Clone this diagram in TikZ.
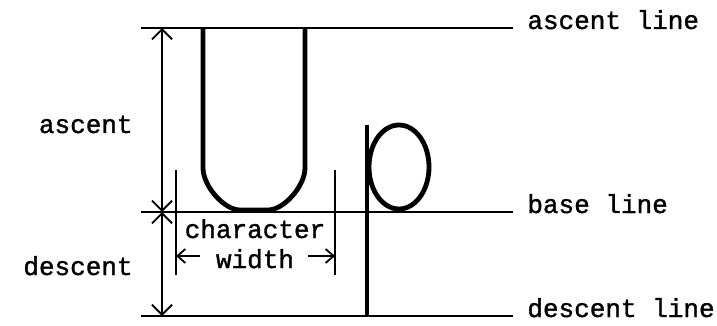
\documentclass[tikz,border=0pt]{standalone}
\usepackage{fontspec}
\newfontfamily\monofont[FakeBold=1.3]{Liberation Mono}
\usetikzlibrary{arrows.meta,positioning}
\tikzset{
  guide/.style={
    line width=1.2pt
  },
  glyph/.style={
    line width=2.4pt,
    line join=round
  },
  dim/.style={
    line width=0.9pt,
    {Straight Barb[length=5pt,width=10pt]}-{Straight Barb[length=5pt,width=10pt]}
  },
  wdim/.style={
    line width=0.9pt,
    -{Straight Barb[length=4pt,width=7pt]}
  },
  tick/.style={
    line width=0.9pt
  },
  lbl/.style={
    font=\monofont\fontsize{13}{15}\selectfont,
    inner sep=0pt
  },
}

\begin{document}
\begin{tikzpicture}[x=0.5pt,y=-0.5pt]
  \useasboundingbox (0,0) rectangle (717,326);
  % the three lines and their names
  \foreach \y/\nm/\txt in {28/asc/ascent line,212/base/base line,316/desc/descent line}{
    \coordinate (\nm-l) at (141,\y);
    \coordinate (\nm-r) at (513,\y);
    \draw[guide] (\nm-l) -- (\nm-r);
    \node[lbl,anchor=base west] (\nm-t) at (527,\y+1) {\txt};
  }
  % ascent and descent
  \coordinate (dimTop) at (162,28);
  \coordinate (dimMid) at (162,212);
  \coordinate (dimBot) at (162,316);
  \draw[dim] (dimMid) -- (dimTop);
  \draw[dim] (dimMid) -- (dimBot);
  \node[lbl,anchor=base east] (ascent) at (133,133) {ascent};
  \node[lbl,anchor=base east] (descent) at (133,275) {descent};
  % character width
  \coordinate (cwA) at (176,170);
  \coordinate (cwB) at (176,275);
  \coordinate (cwC) at (335,170);
  \coordinate (cwD) at (335,275);
  \draw[tick] (cwA) -- (cwB);
  \draw[tick] (cwC) -- (cwD);
  \node[lbl,anchor=base] (chr) at (255,238) {character};
  \node[lbl,anchor=base] (wid) at (255,268) {width};
  \coordinate (wArrL) at (200,256);
  \coordinate (wArrR) at (308,256);
  \draw[wdim] (wArrL) -- (cwA |- wArrL);
  \draw[wdim] (wArrR) -- (cwC |- wArrR);
  % the letters U and p
  \draw[glyph] (203,28) -- (203,168) .. controls (203,186) and (224,210) .. (240,210)
    -- (268,210) .. controls (284,210) and (305,186) .. (305,168) -- (305,28);
  \draw[glyph] (367,125) -- (367,316);
  \draw[glyph] (399,167) ellipse [x radius=30, y radius=42];
\end{tikzpicture}
\end{document}
